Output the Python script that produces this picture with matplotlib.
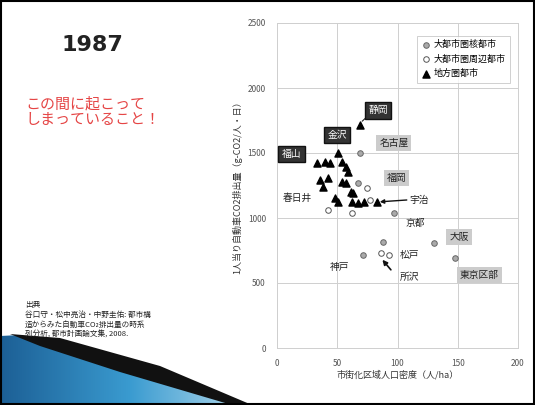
import matplotlib
matplotlib.use("Agg")
import matplotlib.pyplot as plt
from matplotlib.patches import Polygon, Rectangle
import numpy as np

plt.rcParams['font.family'] = ['Noto Sans CJK JP', 'DejaVu Sans']

# 大都市圏核都市 (gray filled circles)
core_x = [69, 67, 97, 130, 148, 71, 88]
core_y = [1500, 1269, 1038, 808, 692, 715, 815]

# 大都市圏周辺都市 (open circles)
sub_x = [75, 77, 42, 62, 86, 93]
sub_y = [1231, 1138, 1062, 1038, 730, 715]

# 地方圏都市 (black triangles)
loc_x = [69, 51, 33, 40, 44, 54, 57, 59, 36, 42, 38, 54, 57, 61, 63, 48, 51, 62, 67, 72, 83]
loc_y = [1715, 1500, 1423, 1430, 1423, 1430, 1392, 1354, 1292, 1308, 1238, 1277, 1269,
         1200, 1192, 1154, 1123, 1123, 1115, 1123, 1123]

# city labels: (text, x, y, style)
labels = [
    ("静岡", 84, 1830, "dark"),
    ("金沢", 50, 1638, "dark"),
    ("福山", 12, 1492, "dark"),
    ("名古屋", 97, 1577, "light"),
    ("福岡", 99, 1308, "light"),
    ("春日井", 17, 1154, "plain"),
    ("宇治", 118, 1138, "plain"),
    ("京都", 115, 962, "plain"),
    ("大阪", 151, 854, "light"),
    ("松戸", 110, 715, "plain"),
    ("神戸", 52, 623, "plain"),
    ("所沢", 110, 546, "plain"),
    ("東京区部", 168, 562, "light"),
]

W, H = 535, 405
fig = plt.figure(figsize=(W / 100, H / 100), dpi=100)
fig.patch.set_facecolor("white")

# slide decoration: blue swoosh at bottom-left
bg = fig.add_axes([0, 0, 1, 1], zorder=0)
bg.set_xlim(0, W)
bg.set_ylim(H, 0)
bg.axis("off")
grad = np.linspace(0, 1, 256).reshape(1, -1)
img = bg.imshow(grad, extent=[0, 260, 405, 330], cmap=matplotlib.colors.LinearSegmentedColormap.from_list(
    "sw", ["#1c5f95", "#3a9bd0", "#bfe0f0"]), aspect="auto", zorder=1)
swoosh = Polygon([(0, 336), (20, 335), (120, 360), (250, 405), (0, 405)], closed=True,
                 transform=bg.transData, facecolor="none", edgecolor="none")
bg.add_patch(swoosh)
img.set_clip_path(swoosh)
bg.add_patch(Polygon([(10, 334), (60, 338), (160, 366), (252, 405), (232, 405), (120, 372), (40, 346)],
                     closed=True, facecolor="#111111", edgecolor="none", zorder=2))
bg.add_patch(Rectangle((0.5, 0.5), W - 1.5, H - 1.5, fill=False, edgecolor="black", lw=1.5, zorder=3))

# left-side texts
fig.text(92 / W, 1 - 45 / H, "1987", fontsize=16, fontweight="bold", family="DejaVu Sans",
         ha="center", va="center", color="#222222")
fig.text(25 / W, 1 - 112 / H, "この間に起こって\nしまっていること！", fontsize=10.8,
         color="#e54545", ha="left", va="center", linespacing=1.15)
fig.text(25 / W, 1 - 320 / H,
         "出典\n谷口守・松中亮治・中野圭佑: 都市構\n造からみた自動車CO₂排出量の時系\n列分析, 都市計画論文集, 2008.",
         fontsize=5.5, color="#222222", ha="left", va="center", linespacing=1.3)

# chart
ax = fig.add_axes([277 / W, 1 - 348 / H, (518 - 277) / W, (348 - 23) / H], zorder=5)
ax.scatter(core_x, core_y, marker="o", s=16, facecolor="#aaaaaa", edgecolor="#666666", lw=0.7, zorder=4,
           label="大都市圏核都市")
ax.scatter(sub_x, sub_y, marker="o", s=16, facecolor="white", edgecolor="#555555", lw=0.7, zorder=4,
           label="大都市圏周辺都市")
ax.scatter(loc_x, loc_y, marker="^", s=26, facecolor="black", edgecolor="black", zorder=4,
           label="地方圏都市")

for txt, x, y, style in labels:
    if style == "dark":
        ax.text(x, y, txt, fontsize=7, color="white", ha="center", va="center", zorder=6,
                bbox=dict(boxstyle="square,pad=0.35", facecolor="#333333", edgecolor="#111111"))
    elif style == "light":
        ax.text(x, y, txt, fontsize=7, color="#222222", ha="center", va="center", zorder=6,
                bbox=dict(boxstyle="square,pad=0.3", facecolor="#cccccc", edgecolor="none"))
    else:
        ax.text(x, y, txt, fontsize=7, color="#222222", ha="center", va="center", zorder=6)

ax.annotate("", xy=(69, 1730), xytext=(76, 1790),
            arrowprops=dict(arrowstyle="-", color="#222222", lw=0.8))
ax.annotate("", xy=(83, 1123), xytext=(110, 1140),
            arrowprops=dict(arrowstyle="-|>", color="#111111", lw=1.0, mutation_scale=6))
ax.annotate("", xy=(86, 695), xytext=(96, 585),
            arrowprops=dict(arrowstyle="-|>", color="#111111", lw=1.2, mutation_scale=7))

ax.set_xlim(0, 200)
ax.set_ylim(0, 2500)
ax.set_xticks([0, 50, 100, 150, 200])
ax.set_yticks([0, 500, 1000, 1500, 2000, 2500])
ax.grid(True, color="#cfcfcf", lw=0.7)
ax.set_axisbelow(True)
for sp in ax.spines.values():
    sp.set_color("#cfcfcf")
    sp.set_linewidth(0.7)
ax.tick_params(length=0, labelsize=6, labelcolor="#555555", pad=8)
ax.set_xlabel("市街化区域人口密度（人/ha）", fontsize=6.5, color="#333333", labelpad=1)
ax.set_ylabel("1人当り自動車CO2排出量（g-CO2/人・日）", fontsize=6.5, color="#333333", labelpad=4)

leg = ax.legend(loc="upper right", fontsize=6.5, frameon=True, fancybox=False, handletextpad=0.3,
                borderpad=0.5, labelspacing=0.6, handlelength=1.0, bbox_to_anchor=(0.985, 0.975))
leg.get_frame().set_edgecolor("#bbbbbb")
leg.get_frame().set_linewidth(0.6)

fig.savefig("out.png", dpi=100, facecolor="white")
